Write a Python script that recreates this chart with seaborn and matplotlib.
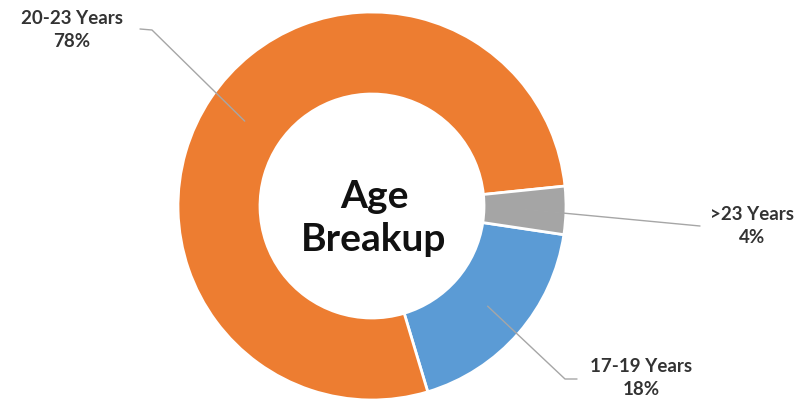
import numpy as np
import seaborn as sns
import matplotlib.pyplot as plt

# data
labels = ["17-19 Years", "20-23 Years", ">23 Years"]
shares = [18, 78, 4]
colors = ["#5B9BD5", "#ED7D31", "#A5A5A5"]
center_title = "Age\nBreakup"

sns.set_theme(style="white")
plt.rcParams['font.family'] = ['Lato', 'DejaVu Sans']

W, H = 810, 411
fig = plt.figure(figsize=(W / 100, H / 100), dpi=100)
ax = fig.add_axes([0, 0, 1, 1])

cx, cy = 372, H - 206
r_out, ring = 194, 82
wedges, _ = ax.pie(shares, colors=colors, startangle=-8.5, counterclock=False,
                   radius=r_out, center=(cx, cy),
                   wedgeprops=dict(width=ring, edgecolor="white", linewidth=2))

ax.set_xlim(0, W)
ax.set_ylim(0, H)
ax.set_aspect("equal")
ax.axis("off")

# label text positions (pixel coords from the top) and leader elbows
label_pos = {"17-19 Years": (641, 378), "20-23 Years": (72, 30), ">23 Years": (752, 226)}
elbows = {"17-19 Years": [(565, 379), (577, 379)],
          "20-23 Years": [(152, 30), (140, 29)],
          ">23 Years": [(700, 226)]}

r_mid = r_out - ring / 2
for w, lab, val in zip(wedges, labels, shares):
    ang = np.deg2rad((w.theta1 + w.theta2) / 2)
    x0, y0 = cx + r_mid * np.cos(ang), cy + r_mid * np.sin(ang)
    pts = [(x0, y0)] + [(x, H - y) for x, y in elbows[lab]]
    xs, ys = zip(*pts)
    ax.plot(xs, ys, color="#A6A6A6", lw=1)
    tx, ty = label_pos[lab]
    ax.text(tx, H - ty, f"{lab}\n{val}%", ha="center", va="center",
            fontsize=13.5, fontweight="bold", color="#333333", linespacing=1.4)

ax.text(cx + 2, H - 218, center_title, ha="center", va="center", fontsize=28,
        fontweight="bold", color="#111111", linespacing=1.25)

fig.savefig("out.png", dpi=100)
